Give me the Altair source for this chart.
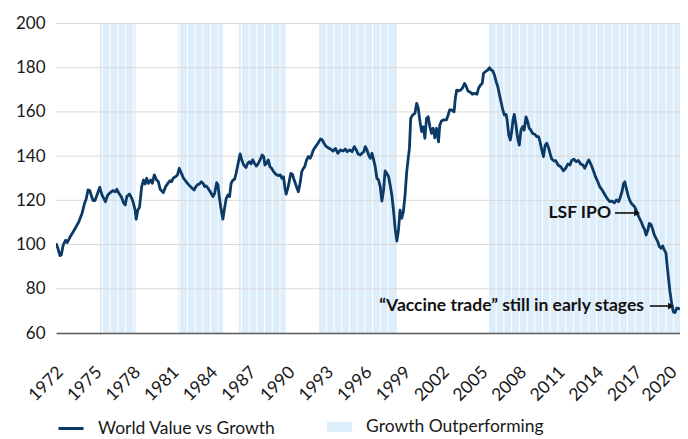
import altair as alt
import pandas as pd
import numpy as np

# ---- line series (decimal year, index value) ----
years = [1971.70, 1971.85, 1972.01, 1972.11, 1972.26, 1972.45, 1972.57, 1972.78, 1973.04, 1973.22,
         1973.48, 1973.73, 1973.92, 1974.04, 1974.19, 1974.33, 1974.43, 1974.58, 1974.73, 1974.89,
         1975.10, 1975.28, 1975.54, 1975.72, 1975.92, 1976.12, 1976.31, 1976.43, 1976.59, 1976.77,
         1976.95, 1977.08, 1977.21, 1977.41, 1977.59, 1977.72, 1977.85, 1977.93, 1978.06, 1978.19,
         1978.36, 1978.50, 1978.63, 1978.75, 1978.88, 1979.06, 1979.19, 1979.34, 1979.52, 1979.65,
         1979.80, 1980.04, 1980.22, 1980.43, 1980.56, 1980.68, 1980.81, 1980.99, 1981.14, 1981.28,
         1981.45, 1981.61, 1981.76, 1981.92, 1982.02, 1982.15, 1982.28, 1982.43, 1982.57, 1982.69,
         1982.84, 1983.00, 1983.13, 1983.26, 1983.38, 1983.51, 1983.69, 1983.90, 1984.03, 1984.19,
         1984.29, 1984.39, 1984.50, 1984.67, 1984.80, 1984.93, 1985.06, 1985.19, 1985.31, 1985.45,
         1985.58, 1985.70, 1985.83, 1986.01, 1986.14, 1986.29, 1986.47, 1986.60, 1986.73, 1986.86,
         1986.99, 1987.12, 1987.28, 1987.43, 1987.58, 1987.72, 1987.84, 1987.94, 1988.07, 1988.20,
         1988.33, 1988.46, 1988.61, 1988.79, 1988.97, 1989.13, 1989.25, 1989.38, 1989.48, 1989.59,
         1989.75, 1989.85, 1989.95, 1990.08, 1990.21, 1990.39, 1990.54, 1990.67, 1990.80, 1990.93,
         1991.03, 1991.18, 1991.31, 1991.45, 1991.57, 1991.70, 1991.88, 1992.06, 1992.26, 1992.40,
         1992.53, 1992.65, 1992.84, 1993.04, 1993.24, 1993.42, 1993.61, 1993.81, 1994.02, 1994.19,
         1994.33, 1994.53, 1994.71, 1994.89, 1995.04, 1995.18, 1995.35, 1995.48, 1995.62, 1995.74,
         1995.87, 1996.00, 1996.13, 1996.26, 1996.39, 1996.51, 1996.64, 1996.77, 1996.90, 1997.03,
         1997.16, 1997.28, 1997.41, 1997.55, 1997.67, 1997.80, 1997.93, 1998.06, 1998.19, 1998.32,
         1998.44, 1998.57, 1998.70, 1998.83, 1998.96, 1999.09, 1999.17, 1999.27, 1999.42, 1999.60,
         1999.73, 1999.86, 1999.99, 2000.12, 2000.25, 2000.37, 2000.50, 2000.63, 2000.76, 2000.89,
         2001.02, 2001.14, 2001.28, 2001.43, 2001.53, 2001.66, 2001.84, 2002.05, 2002.18, 2002.30,
         2002.43, 2002.64, 2002.74, 2002.84, 2003.00, 2003.15, 2003.28, 2003.46, 2003.59, 2003.72,
         2003.90, 2004.06, 2004.23, 2004.42, 2004.54, 2004.70, 2004.83, 2004.93, 2005.08, 2005.27,
         2005.39, 2005.52, 2005.65, 2005.78, 2005.91, 2006.04, 2006.16, 2006.29, 2006.43, 2006.55,
         2006.68, 2006.76, 2006.89, 2007.01, 2007.12, 2007.22, 2007.32, 2007.45, 2007.58, 2007.71,
         2007.84, 2007.97, 2008.09, 2008.23, 2008.36, 2008.48, 2008.61, 2008.74, 2008.92, 2009.07,
         2009.21, 2009.33, 2009.46, 2009.59, 2009.72, 2009.85, 2009.98, 2010.10, 2010.23, 2010.41,
         2010.54, 2010.72, 2010.93, 2011.14, 2011.31, 2011.49, 2011.65, 2011.78, 2011.96, 2012.14,
         2012.30, 2012.47, 2012.65, 2012.80, 2012.99, 2013.11, 2013.30, 2013.45, 2013.63, 2013.81,
         2013.96, 2014.15, 2014.33, 2014.53, 2014.74, 2014.92, 2015.10, 2015.25, 2015.43, 2015.56,
         2015.69, 2015.82, 2015.92, 2016.02, 2016.16, 2016.28, 2016.41, 2016.54, 2016.67, 2016.80,
         2016.93, 2017.05, 2017.18, 2017.31, 2017.44, 2017.57, 2017.70, 2017.82, 2017.96, 2018.09,
         2018.21, 2018.34, 2018.47, 2018.60, 2018.73, 2018.86, 2018.98, 2019.11, 2019.21, 2019.32,
         2019.42, 2019.55, 2019.68, 2019.81, 2019.94, 2020.06, 2020.19]

values = [100.6, 98.3, 95.0, 95.3, 99.8, 102.0, 100.9, 103.3, 105.8, 107.6,
          110.4, 114.2, 118.7, 120.5, 124.7, 124.4, 122.4, 119.9, 119.9, 122.4,
          125.9, 122.4, 119.4, 122.4, 123.5, 124.4, 123.9, 125.0, 123.2, 121.7,
          118.9, 117.9, 121.7, 122.9, 120.9, 118.7, 115.6, 111.5, 115.6, 116.9,
          126.2, 129.2, 127.4, 130.0, 127.7, 129.2, 127.7, 131.5, 129.2, 128.5,
          125.0, 123.5, 126.2, 128.0, 128.9, 128.4, 130.0, 130.7, 131.5, 134.5,
          132.2, 130.0, 128.9, 127.7, 127.0, 126.2, 125.5, 124.7, 126.2, 127.0,
          127.4, 128.4, 127.7, 126.2, 126.5, 125.5, 123.9, 121.7, 123.2, 128.0,
          127.0, 121.7, 117.1, 111.5, 116.4, 120.9, 122.4, 121.7, 127.7, 129.2,
          129.5, 132.2, 136.0, 141.0, 138.3, 136.0, 134.9, 136.8, 137.5, 136.5,
          138.3, 136.8, 135.5, 136.8, 138.5, 140.5, 139.8, 136.0, 136.8, 138.3,
          135.2, 134.5, 133.0, 131.8, 131.2, 131.5, 130.0, 130.7, 126.2, 122.8,
          126.2, 129.2, 132.2, 131.8, 129.2, 126.2, 123.9, 127.7, 133.0, 134.5,
          135.2, 138.3, 139.8, 139.0, 140.5, 142.8, 144.3, 145.8, 147.8, 147.3,
          145.8, 144.7, 143.8, 143.2, 142.3, 143.5, 141.3, 142.8, 142.3, 143.2,
          142.0, 142.8, 142.0, 144.3, 142.8, 141.0, 140.5, 141.3, 142.0, 144.3,
          142.8, 140.5, 139.0, 141.3, 138.3, 135.2, 130.0, 129.2, 126.2, 119.7,
          124.7, 133.3, 132.2, 130.7, 127.0, 122.4, 115.6, 107.3, 101.6, 106.6,
          115.6, 111.9, 114.9, 122.4, 133.0, 139.8, 143.5, 157.1, 158.6, 159.4,
          163.9, 161.6, 155.6, 151.1, 153.3, 148.1, 157.1, 157.8, 153.3, 150.3,
          152.6, 148.3, 152.6, 146.5, 154.1, 155.9, 156.4, 156.4, 158.6, 160.9,
          160.9, 160.1, 166.2, 169.9, 169.5, 169.9, 170.7, 172.9, 171.4, 169.5,
          168.9, 168.0, 168.4, 168.0, 170.7, 172.2, 172.9, 177.5, 178.2, 179.0,
          180.0, 179.0, 178.5, 176.7, 173.7, 171.4, 168.0, 164.6, 160.9, 158.6,
          158.9, 156.4, 149.6, 147.3, 151.1, 156.4, 158.9, 154.1, 148.1, 145.0,
          151.8, 153.3, 151.8, 157.8, 155.6, 152.6, 151.8, 150.3, 149.9, 148.8,
          148.8, 146.3, 142.8, 139.8, 145.0, 145.8, 143.8, 141.3, 138.7, 137.8,
          138.0, 136.0, 135.2, 133.4, 134.5, 136.5, 136.0, 138.0, 138.6, 137.5,
          138.0, 136.5, 136.0, 134.5, 137.0, 138.3, 136.0, 133.7, 130.7, 128.4,
          126.2, 124.7, 122.9, 120.9, 119.4, 119.7, 118.9, 120.2, 119.4, 121.4,
          123.9, 127.7, 128.4, 125.5, 122.4, 120.2, 118.7, 117.9, 117.1, 115.6,
          113.4, 111.9, 110.4, 108.4, 106.9, 104.3, 106.6, 109.6, 108.9, 106.6,
          104.3, 102.8, 101.3, 99.0, 98.3, 99.4, 97.6, 96.1, 90.0, 84.0,
          78.7, 73.4, 69.6, 69.2, 71.2, 71.2, 70.7]

# ---- "Growth Outperforming" periods ----
band_start = [1975.10, 1981.20, 1985.91, 1992.09, 2005.29]
band_end = [1977.88, 1984.67, 1989.54, 1998.19, 2020.20]

# ---- axes ----
x_ticks = [1972, 1975, 1978, 1981, 1984, 1987, 1990, 1993, 1996, 1999,
           2002, 2005, 2008, 2011, 2014, 2017, 2020]
y_ticks = [60, 80, 100, 120, 140, 160, 180, 200]
grid_values = [80, 100, 120, 140, 160, 180, 200]

# ---- annotations ----
ann_text = ["LSF IPO", "\u201cVaccine trade\u201d still in early stages"]
ann_x = [2014.84, 2017.40]
ann_y = [114.3, 72.2]
arrow_x = [2015.15, 2017.86]
arrow_x2 = [2016.90, 2019.55]
arrow_tip = [2016.86, 2019.50]

LINE_NAME = "World Value vs Growth"
BAND_NAME = "Growth Outperforming"
NAVY = "#0b3a66"
BLUE = "#ddedfa"
FONT = "Lato"

line_df = pd.DataFrame({"year": years, "value": values, "series": LINE_NAME})
band_df = pd.DataFrame({"start": band_start, "end": band_end, "label": BAND_NAME})
grid_df = pd.DataFrame({"v": grid_values})
ann_df = pd.DataFrame({"x": ann_x, "y": ann_y, "t": ann_text})
arr_df = pd.DataFrame({"x": arrow_x, "x2": arrow_x2, "tip": arrow_tip, "y": ann_y})

# thin white column separators inside shaded periods (decoration)
stripes = []
for s, e in zip(band_start, band_end):
    k = np.ceil((s - 0.11) / 0.6)
    p = 0.11 + 0.6 * k
    while p < e - 0.1:
        stripes.append(round(p, 3))
        p += 0.6
stripe_df = pd.DataFrame({"s": stripes})

xs = alt.Scale(domain=[1971.7, 2020.2], nice=False, zero=False)
ys = alt.Scale(domain=[60, 200], nice=False, zero=False)

x_axis = alt.Axis(values=x_ticks, format="d", labelAngle=-45, labelAlign="right",
                  labelBaseline="top", labelPadding=30, ticks=False, grid=False,
                  labelOffset={"condition": {"test": "datum.value == 2020", "value": -10},
                               "value": -6},
                  domain=True, domainColor="#595959", domainWidth=1.3,
                  labelFont=FONT, labelFontSize=17.5, labelColor="#1a1a1a",
                  title=None, zindex=1, labelOverlap=False, labelFlush=False,
                  labelBound=False)
y_axis = alt.Axis(values=y_ticks, ticks=False, domain=False, grid=False,
                  labelFont=FONT, labelFontSize=17, labelColor="#1a1a1a",
                  labelPadding=11, title=None)

bands = alt.Chart(band_df).mark_rect().encode(
    x=alt.X("start:Q", scale=xs, axis=x_axis),
    x2="end:Q",
    fill=alt.Fill("label:N", scale=alt.Scale(domain=[BAND_NAME], range=[BLUE]),
                  legend=alt.Legend(orient="none", legendX=271, legendY=391, title=None,
                                    symbolType="M-1,-0.4H1V0.4H-1Z", symbolSize=625,
                                    symbolStrokeWidth=0, labelFont=FONT, labelFontSize=17.5,
                                    labelColor="#1a1a1a", labelOffset=14, padding=0,
                                    labelLimit=0)),
)

stripe_layer = alt.Chart(stripe_df).mark_rule(color="white", strokeWidth=1).encode(
    x=alt.X("s:Q", scale=xs, axis=x_axis)
)

grid = alt.Chart(grid_df).mark_rule(color="#d9d9d9", strokeWidth=1).encode(
    y=alt.Y("v:Q", scale=ys, axis=y_axis)
)

line = alt.Chart(line_df).mark_line(strokeWidth=2.8, strokeJoin="round", clip=True).encode(
    x=alt.X("year:Q", scale=xs, axis=x_axis),
    y=alt.Y("value:Q", scale=ys, axis=y_axis),
    color=alt.Color("series:N", scale=alt.Scale(domain=[LINE_NAME], range=[NAVY]),
                    legend=alt.Legend(orient="none", legendX=1, legendY=391, title=None,
                                      symbolType="stroke", symbolSize=625,
                                      symbolStrokeWidth=3, labelFont=FONT, labelFontSize=17.5,
                                      labelColor="#1a1a1a", labelOffset=13, padding=0,
                                      labelLimit=0)),
)

texts = alt.Chart(ann_df).mark_text(font=FONT, fontSize=17.5, fontWeight="bold",
                                    align="right", baseline="middle", color="#111111").encode(
    x=alt.X("x:Q", scale=xs, axis=x_axis),
    y=alt.Y("y:Q", scale=ys, axis=y_axis),
    text="t:N",
)

arrows = alt.Chart(arr_df).mark_rule(color="#111111", strokeWidth=1.6).encode(
    x=alt.X("x:Q", scale=xs, axis=x_axis),
    x2="x2:Q",
    y=alt.Y("y:Q", scale=ys, axis=y_axis),
)

heads = alt.Chart(arr_df).mark_point(shape="triangle-right", filled=True, size=45,
                                     color="#111111", opacity=1).encode(
    x=alt.X("tip:Q", scale=xs, axis=x_axis),
    y=alt.Y("y:Q", scale=ys, axis=y_axis),
)

chart = alt.layer(bands, stripe_layer, grid, line, texts, arrows, heads).properties(
    width=624, height=309.5,
    autosize=alt.AutoSizeParams(type="none"),
    padding={"left": 48, "top": 15.5, "right": 0, "bottom": 105},
    background="white",
).configure_view(stroke=None)

chart.save("out.html", embed_options={"renderer": "svg", "actions": False})
